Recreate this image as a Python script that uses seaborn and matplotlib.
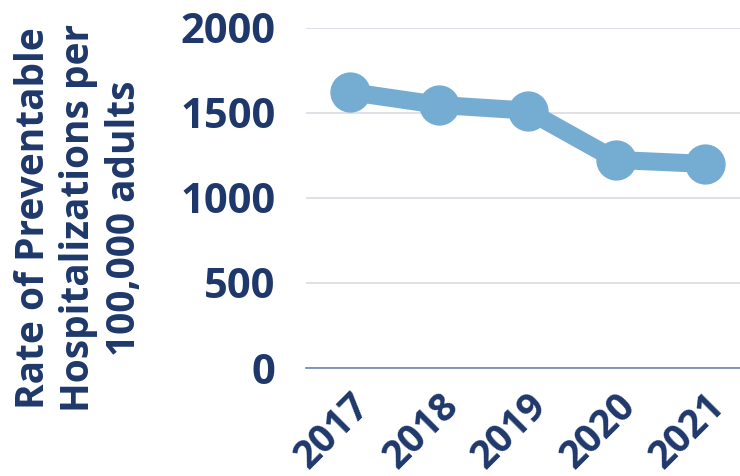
import matplotlib
matplotlib.use('Agg')
import matplotlib.pyplot as plt
import seaborn as sns
import pandas as pd

years = ['2017', '2018', '2019', '2020', '2021']
rates = [1621, 1545, 1512, 1222, 1199]
y_ticks = [0, 500, 1000, 1500, 2000]

navy = '#1F386B'
light_blue = '#75ACD2'

sns.set_style('white')
plt.rcParams['font.family'] = ['Open Sans', 'DejaVu Sans']
plt.rcParams['font.weight'] = 'bold'

df = pd.DataFrame({'year': years, 'rate': rates})

fig = plt.figure(figsize=(7.4, 4.76), dpi=100)
# plot area runs a bit past the right edge, like the original
ax = fig.add_axes([306 / 740, 1 - 368 / 476, 443 / 740, (368 - 27.5) / 476])

sns.lineplot(data=df, x='year', y='rate', ax=ax, color=light_blue, lw=13,
             marker='o', markersize=29, markeredgewidth=0, sort=False)

ax.set_ylim(0, 2000)
ax.set_xlim(-0.5, 4.5)
ax.set_yticks(y_ticks)
ax.yaxis.grid(True, color='#D9DCE3', lw=1.2)
ax.set_axisbelow(True)
for s in ['top', 'right', 'left']:
    ax.spines[s].set_visible(False)
ax.spines['bottom'].set_color('#6F84B0')
ax.spines['bottom'].set_linewidth(1.2)

ax.tick_params(axis='y', length=0, pad=22, labelsize=30, labelcolor=navy)
ax.tick_params(axis='x', length=0, pad=13, labelsize=28, labelcolor=navy)
for lab in ax.get_yticklabels():
    lab.set_fontweight('bold')
for lab in ax.get_xticklabels():
    lab.set_rotation(45)
    lab.set_ha('right')
    lab.set_rotation_mode('anchor')
    lab.set_fontweight('bold')

ax.set_xlabel('')
ax.set_ylabel('')
fig.text(79 / 740, 1 - 218 / 476,
         'Rate of Preventable\nHospitalizations per\n100,000 adults',
         rotation=90, ha='center', va='center', ma='center',
         fontsize=28, fontweight='bold', color=navy, linespacing=1.22)

fig.savefig('out.png', dpi=100)
